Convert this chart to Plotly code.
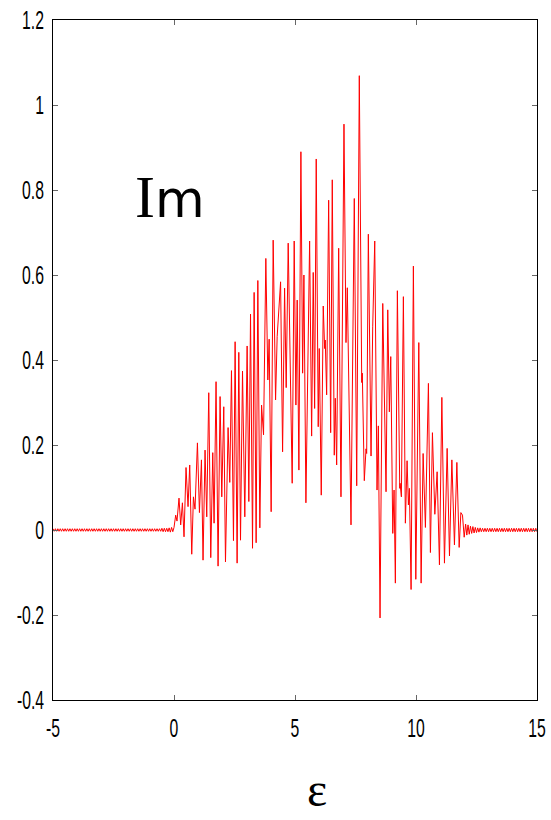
import plotly.graph_objects as go

# ---- data ----
left_tail_x = [
    -5.00, -4.95, -4.90, -4.85, -4.80, -4.75, -4.70, -4.65, -4.60, -4.55,
    -4.50, -4.45, -4.40, -4.35, -4.30, -4.25, -4.20, -4.15, -4.10, -4.05,
    -4.00, -3.95, -3.90, -3.85, -3.80, -3.75, -3.70, -3.65, -3.60, -3.55,
    -3.50, -3.45, -3.40, -3.35, -3.30, -3.25, -3.20, -3.15, -3.10, -3.05,
    -3.00, -2.95, -2.90, -2.85, -2.80, -2.75, -2.70, -2.65, -2.60, -2.55,
    -2.50, -2.45, -2.40, -2.35, -2.30, -2.25, -2.20, -2.15, -2.10, -2.05,
    -2.00, -1.95, -1.90, -1.85, -1.80, -1.75, -1.70, -1.65, -1.60, -1.55,
    -1.50, -1.45, -1.40, -1.35, -1.30, -1.25, -1.20, -1.15, -1.10, -1.05,
    -1.00, -0.95, -0.90, -0.85, -0.80, -0.75, -0.70, -0.65, -0.60, -0.55,
    -0.50, -0.45, -0.40, -0.35, -0.30, -0.25, -0.20, -0.15, -0.10, -0.05,
    0.00,
]
left_tail_y = [
    0.003, -0.003, 0.003, -0.003, 0.003, -0.003, 0.003, -0.003, 0.003, -0.003,
    0.003, -0.003, 0.003, -0.003, 0.003, -0.003, 0.003, -0.003, 0.003, -0.003,
    0.003, -0.003, 0.003, -0.003, 0.003, -0.003, 0.003, -0.003, 0.003, -0.003,
    0.003, -0.003, 0.003, -0.003, 0.003, -0.003, 0.003, -0.003, 0.003, -0.003,
    0.003, -0.003, 0.003, -0.003, 0.003, -0.003, 0.003, -0.003, 0.003, -0.003,
    0.003, -0.003, 0.003, -0.003, 0.003, -0.003, 0.003, -0.003, 0.003, -0.003,
    0.003, -0.003, 0.003, -0.003, 0.003, -0.003, 0.003, -0.003, 0.003, -0.003,
    0.003, -0.003, 0.003, -0.003, 0.003, -0.003, 0.003, -0.003, 0.003, -0.003,
    0.003, -0.003, 0.003, -0.003, 0.003, -0.003, 0.003, -0.003, 0.003, -0.003,
    0.004, -0.004, 0.004, -0.004, 0.004, -0.004, 0.005, -0.005, 0.006, -0.004,
    0.006,
]

main_x = [
    0.07, 0.124, 0.207, 0.277, 0.348, 0.414, 0.497, 0.58, 0.65, 0.733,
    0.803, 0.869, 0.968, 1.051, 1.134, 1.2, 1.283, 1.353, 1.436, 1.519,
    1.602, 1.656, 1.738, 1.821, 1.904, 1.974, 2.057, 2.127,
    2.235, 2.305, 2.375, 2.458, 2.525, 2.608, 2.678, 2.748, 2.831, 2.926,
    3.022, 3.092, 3.162, 3.245, 3.311, 3.394, 3.464, 3.547, 3.618, 3.7,
    3.795, 3.878, 3.932, 4.015, 4.098, 4.197, 4.263, 4.404, 4.487,
    4.57, 4.636, 4.719, 4.884, 4.967, 5.037, 5.091, 5.161, 5.244, 5.315,
    5.368, 5.451, 5.604, 5.687, 5.753, 5.811, 5.877, 5.96, 6.002, 6.085,
    6.167, 6.225, 6.25, 6.308, 6.391, 6.474, 6.54, 6.623, 6.664, 6.722,
    6.805, 6.9, 7.024, 7.107, 7.161, 7.314, 7.45, 7.55, 7.657, 7.757,
    7.781, 7.864, 7.935, 7.962, 8.03, 8.142, 8.211, 8.295, 8.39, 8.444,
    8.514, 8.626, 8.762, 8.833, 8.899, 8.957, 9.04, 9.093, 9.147,
    9.23, 9.329, 9.342, 9.396, 9.479, 9.561, 9.632, 9.686, 9.727, 9.797,
    9.892, 9.992, 10.116, 10.211, 10.294, 10.389, 10.513, 10.596, 10.679, 10.778,
    10.873, 10.969, 11.068, 11.176, 11.287, 11.383,
    11.482, 11.589, 11.689, 11.784, 11.854, 11.921, 11.991,
]
main_y = [
    0.035, 0.021, 0.075, 0.012, 0.064, -0.016, 0.147, 0.055, 0.153, -0.057,
    0.078, 0.049, 0.205, 0.041, 0.165, -0.071, 0.188, 0.031, 0.323, -0.065,
    0.182, 0.016, 0.349, -0.085, 0.314, 0.078, 0.29, -0.075,
    0.241, 0.112, 0.375, -0.025, 0.443, -0.078, 0.418, -0.024, 0.374, 0.031,
    0.433, 0.067, 0.508, -0.043, 0.559, -0.03, 0.587, 0.005, 0.294, 0.224,
    0.639, 0.353, 0.449, 0.043, 0.682, 0.306, 0.455, 0.584, 0.184,
    0.569, 0.335, 0.675, 0.11, 0.68, 0.294, 0.541, 0.141, 0.89, 0.369,
    0.6, 0.064, 0.68, 0.221, 0.606, 0.286, 0.873, 0.243, 0.427, 0.082,
    0.527, 0.427, 0.447, 0.318, 0.776, 0.229, 0.824, 0.176, 0.31, 0.153,
    0.663, 0.078, 0.955, 0.441, 0.57, 0.012, 0.78, 0.104, 1.069, 0.347,
    0.369, 0.116, 0.191, 0.18, 0.696, 0.174, 0.478, 0.68, 0.094, 0.245,
    -0.207, 0.533, 0.09, 0.518, 0.278, 0.408, -0.008, 0.094, -0.125,
    0.563, 0.098, 0.11, 0.078, 0.549, 0.016, 0.163, 0.059, 0.098, -0.14,
    0.621, -0.116, 0.441, -0.125, 0.18, 0.006, 0.345, -0.053, 0.229, 0.037,
    0.137, -0.082, 0.312, -0.078, 0.192, -0.061,
    0.165, -0.035, 0.159, -0.041, 0.041, 0.035, -0.017,
]

right_tail_x = [
    12.05, 12.10, 12.15, 12.20, 12.25, 12.30, 12.35, 12.40, 12.45, 12.50,
    12.55, 12.60, 12.65, 12.70, 12.75, 12.80, 12.85, 12.90, 12.95, 13.00,
    13.05, 13.10, 13.15, 13.20, 13.25, 13.30, 13.35, 13.40, 13.45, 13.50,
    13.55, 13.60, 13.65, 13.70, 13.75, 13.80, 13.85, 13.90, 13.95, 14.00,
    14.05, 14.10, 14.15, 14.20, 14.25, 14.30, 14.35, 14.40, 14.45, 14.50,
    14.55, 14.60, 14.65, 14.70, 14.75, 14.80, 14.85, 14.90, 14.95, 15.00,
]
right_tail_y = [
    0.014, -0.012, 0.012, -0.010, 0.009, -0.008, 0.008, -0.007, 0.006, -0.006,
    0.005, -0.005, 0.005, -0.004, 0.004, -0.004, 0.004, -0.004, 0.004, -0.004,
    0.004, -0.004, 0.004, -0.004, 0.004, -0.004, 0.004, -0.004, 0.004, -0.004,
    0.004, -0.004, 0.004, -0.004, 0.004, -0.004, 0.004, -0.004, 0.004, -0.004,
    0.004, -0.004, 0.004, -0.004, 0.004, -0.004, 0.004, -0.004, 0.004, -0.004,
    0.004, -0.004, 0.004, -0.004, 0.004, -0.004, 0.004, -0.004, 0.004, -0.004,
]

x_ticks = [-5, 0, 5, 10, 15]
x_tick_labels = ["-5", "0", "5", "10", "15"]
y_ticks = [-0.4, -0.2, 0, 0.2, 0.4, 0.6, 0.8, 1.0, 1.2]
y_tick_labels = ["-0.4", "-0.2", "0", "0.2", "0.4", "0.6", "0.8", "1", "1.2"]

xs = left_tail_x + main_x + right_tail_x
ys = left_tail_y + main_y + right_tail_y

tick_font = dict(family="Liberation Sans, Arial, sans-serif", size=25, color="black")

fig = go.Figure()
fig.add_trace(go.Scatter(x=xs, y=ys, mode="lines",
                         line=dict(color="#ff0000", width=1), showlegend=False,
                         hoverinfo="skip"))

fig.update_layout(
    width=551, height=820,
    margin=dict(l=53, r=14, t=20, b=120),
    paper_bgcolor="white", plot_bgcolor="white",
    showlegend=False,
    annotations=[
        dict(text='I<span style="font-family:DejaVu Sans;font-size:51px">m</span>',
             x=0.166, y=0.74, xref="paper", yref="paper",
             xanchor="left", yanchor="middle", showarrow=False,
             font=dict(family="Liberation Serif, DejaVu Serif, serif", size=60, color="black")),
        dict(text="ε", x=0.545, y=-0.1735, xref="paper", yref="paper",
             xanchor="center", yanchor="bottom", showarrow=False,
             font=dict(family="Liberation Serif, DejaVu Serif, serif", size=48, color="black")),
    ],
)
fig.update_xaxes(range=[-5, 15], tickvals=x_ticks, ticktext=x_tick_labels,
                 ticks="inside", ticklen=5, tickcolor="#666", tickwidth=1,
                 showline=True, linecolor="black", linewidth=1, mirror="ticks",
                 showgrid=False, zeroline=False, tickfont=tick_font,
                 automargin=False, ticklabelstandoff=6)
fig.update_yaxes(range=[-0.4, 1.2], tickvals=y_ticks, ticktext=y_tick_labels,
                 ticks="inside", ticklen=5, tickcolor="#666", tickwidth=1,
                 showline=True, linecolor="black", linewidth=1, mirror="ticks",
                 showgrid=False, zeroline=False, tickfont=tick_font,
                 automargin=False, ticklabelstandoff=3)

# narrow the tick-label glyphs horizontally (condensed look of the reference)
post = """
var gd = document.getElementById('{plot_id}');
var s = 0.63;
gd.querySelectorAll('g.xtick text').forEach(function(t){
  var b = t.getBBox(); var ax = b.x + b.width/2;
  var tr = t.getAttribute('transform') || '';
  t.setAttribute('transform', tr + ' translate(' + ax + ',0) scale(' + s + ',1) translate(' + (-ax) + ',0)');
});
gd.querySelectorAll('g.ytick text').forEach(function(t){
  var b = t.getBBox(); var ax = b.x + b.width;
  var tr = t.getAttribute('transform') || '';
  t.setAttribute('transform', tr + ' translate(' + ax + ',0) scale(' + s + ',1) translate(' + (-ax) + ',0)');
});
"""

fig.write_html("out.html", post_script=post)
